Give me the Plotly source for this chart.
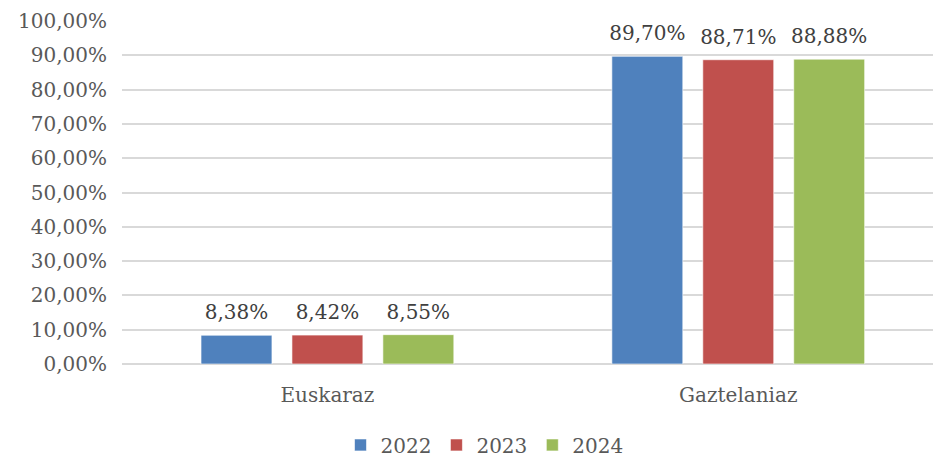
import plotly.graph_objects as go

categories = ["Euskaraz", "Gaztelaniaz"]
years = ["2022", "2023", "2024"]
values_2022 = [0.0838, 0.8970]
values_2023 = [0.0842, 0.8871]
values_2024 = [0.0855, 0.8888]
colors = ["#4F81BD", "#C0504D", "#9BBB59"]

series = [values_2022, values_2023, values_2024]
FONT = "DejaVu Serif"

fig = go.Figure()
for name, vals, col in zip(years, series, colors):
    fig.add_trace(go.Bar(
        x=categories, y=vals, name=name,
        marker=dict(color=col, line=dict(color="rgba(255,255,255,0.6)", width=1)),
    ))
for name, vals in zip(years, series):
    fig.add_trace(go.Scatter(
        x=categories, y=vals, name=name, showlegend=False,
        mode="markers+text", marker=dict(size=16, opacity=0),
        texttemplate="%{y:.2%}", textposition="top center",
        textfont=dict(family=FONT, size=20, color="#404040"),
        cliponaxis=False, hoverinfo="skip",
    ))

fig.update_layout(
    width=933, height=459,
    margin=dict(l=122, r=0, t=21, b=95, autoexpand=False),
    paper_bgcolor="white", plot_bgcolor="white",
    separators=",.",
    barmode="group", bargap=0.336, bargroupgap=0.22,
    scattermode="group", scattergap=0.336,
    font=dict(family=FONT, size=20, color="#595959"),
    showlegend=True,
    legend=dict(orientation="h", x=0.447, xanchor="center", y=-0.236, yanchor="middle",
                font=dict(family=FONT, size=20, color="#595959"),
                itemwidth=30, traceorder="normal"),
    xaxis=dict(range=[-0.5, 1.474], showgrid=False, showline=False, automargin=False,
               ticks="outside", ticklen=13, tickcolor="rgba(0,0,0,0)",
               tickfont=dict(family=FONT, size=20, color="#595959")),
    yaxis=dict(range=[0, 1.0], dtick=0.1, tickformat=".2%", automargin=False,
               showgrid=True, gridcolor="#D9D9D9", gridwidth=1.5,
               zeroline=True, zerolinecolor="#D9D9D9", zerolinewidth=1.5,
               ticks="outside", ticklen=10, tickcolor="rgba(0,0,0,0)",
               tickfont=dict(family=FONT, size=20, color="#595959")),
)

fig.write_html("out.html", config={"displayModeBar": False},
               post_script="document.body.style.margin='0';document.body.style.overflow='hidden';")
